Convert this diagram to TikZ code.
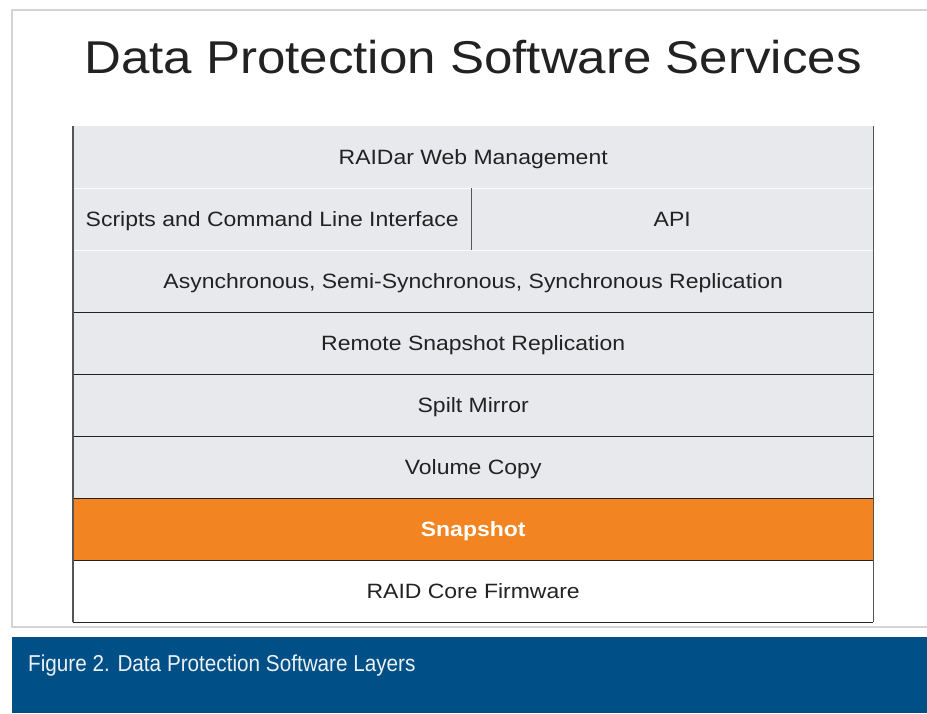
\documentclass[tikz,border=0pt]{standalone}
\usepackage{fontspec}
\setmainfont{Liberation Sans}[FakeStretch=1.11]
\newfontfamily\capfont{Liberation Sans}[FakeStretch=0.9]
\definecolor{layergray}{HTML}{E8E9ED}
\definecolor{snaporange}{HTML}{F28522}
\definecolor{framegray}{HTML}{D4D4D4}
\definecolor{bandblue}{HTML}{004F87}
\definecolor{edgegray}{HTML}{555555}
\definecolor{textdark}{HTML}{222222}
\tikzset{
  layer/.style={rectangle, anchor=north west, inner sep=0pt, minimum height=62pt,
    text height=14.8pt, text depth=0pt, text=textdark,
    font=\fontsize{20.7}{24}\selectfont},
  darkline/.style={draw=textdark, line width=1.3pt},
  lightline/.style={draw=white!85!layergray, line width=1pt},
  edgeline/.style={draw=edgegray, line width=1.5pt},
  framestyle/.style={draw=framegray, line width=2.5pt},
}
\begin{document}
\begin{tikzpicture}[x=1pt,y=-1pt]
\useasboundingbox (0,0) rectangle (927,713);
\fill[white] (0,0) rectangle (927,713);
% outer frame
\coordinate (ftr) at (927,10);
\coordinate (ftl) at (12,10);
\coordinate (fbl) at (12,627);
\coordinate (fbr) at (927,627);
\draw[framestyle] (ftr) -- (ftl) -- (fbl) -- (fbr);
% title
\node[anchor=base, inner sep=0pt, text=textdark, font=\fontsize{46}{52}\selectfont] (title) at (473,73) {Data Protection Software Services};
% layers
\node[layer, fill=layergray, minimum width=800pt] (raidar) at (73,126) {RAIDar Web Management};
\node[layer, fill=layergray, minimum width=398pt] (scripts) at (73,188) {Scripts and Command Line Interface};
\node[layer, fill=layergray, minimum width=402pt] (api) at (471,188) {API};
\node[layer, fill=layergray, minimum width=800pt] (async) at (73,250) {Asynchronous, Semi-Synchronous, Synchronous Replication};
\node[layer, fill=layergray, minimum width=800pt] (remote) at (73,312) {Remote Snapshot Replication};
\node[layer, fill=layergray, minimum width=800pt] (split) at (73,374) {Spilt Mirror};
\node[layer, fill=layergray, minimum width=800pt] (volume) at (73,436) {Volume Copy};
\node[layer, fill=snaporange, minimum width=800pt, text=white, font=\fontsize{20.7}{24}\selectfont\bfseries] (snap) at (73,498) {Snapshot};
\node[layer, fill=white, minimum width=800pt] (firmware) at (73,560) {RAID Core Firmware};
% separators
\draw[lightline] (raidar.south west) -- (raidar.south east);
\draw[lightline] (scripts.south west) -- (api.south east);
\draw[darkline] (async.south west) -- (async.south east);
\draw[darkline] (remote.south west) -- (remote.south east);
\draw[darkline] (split.south west) -- (split.south east);
\draw[darkline] (volume.south west) -- (volume.south east);
\draw[darkline] (snap.south west) -- (snap.south east);
\draw[darkline] (firmware.south west) -- (firmware.south east);
% edges
\draw[edgeline] (raidar.north west) -- (firmware.south west);
\draw[edgeline] (raidar.north east) -- (firmware.south east);
\draw[edgeline] (scripts.north east) -- (scripts.south east);
% caption band
\fill[bandblue] (12,637) rectangle (927,713);
\node[anchor=base west, inner sep=0pt, text=white!92!bandblue, font=\capfont\fontsize{23}{26}\selectfont] (caption) at (28,671) {Figure 2. Data Protection Software Layers};
\end{tikzpicture}
\end{document}
